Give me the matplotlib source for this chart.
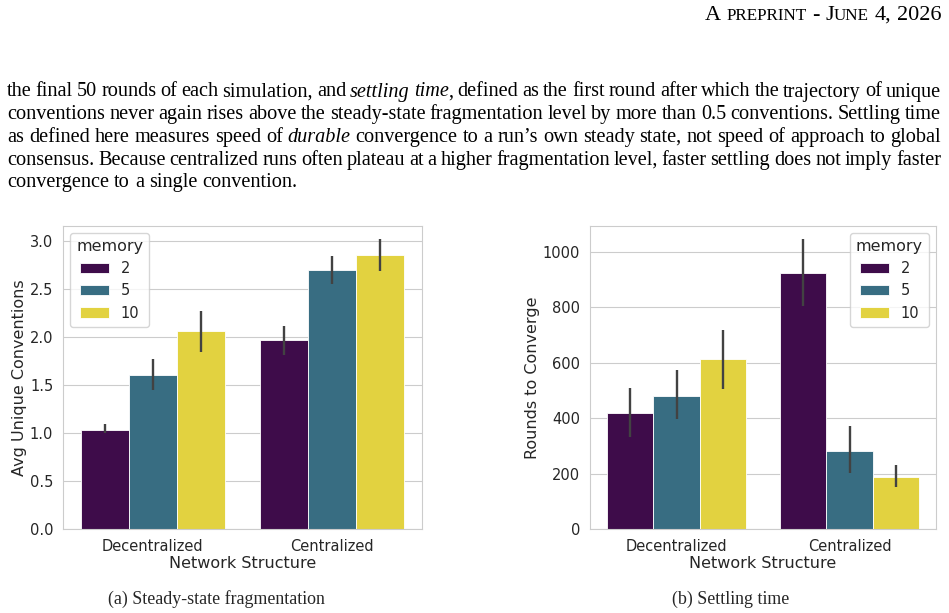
import matplotlib
matplotlib.use("Agg")
import matplotlib.pyplot as plt
import seaborn as sns
import numpy as np

W, H = 949, 613

structures = ["Decentralized", "Centralized"]
memory_levels = ["2", "5", "10"]
memory_values = [2, 5, 10]

# (a) steady-state fragmentation, one list per memory level: [Decentralized, Centralized]
frag_mean = [[1.03, 1.97], [1.61, 2.70], [2.06, 2.85]]
frag_lo = [[1.00, 1.81], [1.45, 2.55], [1.85, 2.69]]
frag_hi = [[1.10, 2.12], [1.77, 2.84], [2.27, 3.02]]

# (b) settling time
settle_mean = [[418, 925], [480, 282], [614, 189]]
settle_lo = [[331, 805], [399, 204], [507, 151]]
settle_hi = [[508, 1045], [575, 373], [718, 232]]

header_words = [[("A", "big")], [("PREPRINT", "small")], [("-", "big")],
                [("J", "big"), ("UNE", "small")], [("4,", "big")], [("2026", "big")]]

para_lines = [
    [("the final 50 rounds of each simulation, and ", "normal"), ("settling time", "italic"),
     (", defined as the first round after which the trajectory of unique", "normal")],
    [("conventions never again rises above the steady-state fragmentation level by more than 0.5 conventions. Settling time", "normal")],
    [("as defined here measures speed of ", "normal"), ("durable", "italic"),
     (" convergence to a run\u2019s own steady state, not speed of approach to global", "normal")],
    [("consensus. Because centralized runs often plateau at a higher fragmentation level, faster settling does not imply faster", "normal")],
    [("convergence to a single convention.", "normal")],
]

captions = ["(a) Steady-state fragmentation", "(b) Settling time"]

sns.set_style("whitegrid")
plt.rcParams["font.family"] = ["DejaVu Sans"]

# numeric hue mapped linearly onto viridis, then desaturated like seaborn bars
base = plt.get_cmap("viridis")
lo_m, hi_m = min(memory_values), max(memory_values)
colors = [sns.desaturate(base((v - lo_m) / (hi_m - lo_m)), 0.75) for v in memory_values]

fig = plt.figure(figsize=(W / 100, H / 100), dpi=100)
renderer = fig.canvas.get_renderer()


def px(x, y):
    return x / W, 1 - y / H


def draw_bars(ax, means, lo, hi, ylim, yticks, fmt, ylabel, loc):
    n = len(memory_levels)
    width = 0.8 / n
    x = np.arange(len(structures))
    for j, m in enumerate(memory_levels):
        pos = x + (j - (n - 1) / 2) * width
        ax.bar(pos, means[j], width=width, color=colors[j], edgecolor="white",
               linewidth=0.6, label=m, zorder=2)
        ax.vlines(pos, lo[j], hi[j], color="#424242", linewidth=1.7, zorder=3)
    ax.set_xlim(-0.5, len(structures) - 0.5)
    ax.set_ylim(*ylim)
    ax.set_xticks(x)
    ax.set_xticklabels(structures, fontsize=10.5)
    ax.set_yticks(yticks)
    ax.set_yticklabels([fmt.format(t) for t in yticks], fontsize=10.5)
    ax.xaxis.grid(False)
    ax.set_axisbelow(True)
    ax.set_xlabel("Network Structure", fontsize=11.5, labelpad=1.5)
    ax.set_ylabel(ylabel, fontsize=11.5, labelpad=2)
    for s in ax.spines.values():
        s.set_color("#cccccc")
    ax.legend(title="memory", loc=loc, fontsize=10.5, title_fontsize=11.5)


ax1 = fig.add_axes([63 / W, 1 - 529.3 / H, 359 / W, 303.6 / H])
draw_bars(ax1, frag_mean, frag_lo, frag_hi, (0, 3.16),
          [0, 0.5, 1.0, 1.5, 2.0, 2.5, 3.0], "{:.1f}", "Avg Unique Conventions", "upper left")

ax2 = fig.add_axes([590 / W, 1 - 529.3 / H, 346 / W, 303.6 / H])
draw_bars(ax2, settle_mean, settle_lo, settle_hi, (0, 1094),
          [0, 200, 400, 600, 800, 1000], "{:.0f}", "Rounds to Converge", "upper right")

serif = "Liberation Serif"


def width_of(s, size, style="normal"):
    t = fig.text(0, 0, s, fontsize=size, family=serif, style=style)
    w = t.get_window_extent(renderer).width
    t.remove()
    return w


# header in small caps, right aligned
hsize = {"big": 16, "small": 12.3}
hspace = width_of("a a", 16) - width_of("aa", 16)
word_w = [sum(width_of(t, hsize[k]) for t, k in wd) for wd in header_words]
x = 941.5 - sum(word_w) - hspace * (len(header_words) - 1)
for wd, ww in zip(header_words, word_w):
    xx = x
    for t, k in wd:
        fig.text(*px(xx, 20), t, fontsize=hsize[k], family=serif, va="baseline", color="black")
        xx += width_of(t, hsize[k])
    x += ww + hspace


def split_words(segments):
    words = []
    new_word = True
    for text, style in segments:
        parts = text.split(" ")
        for i, p in enumerate(parts):
            if i > 0:
                new_word = True
            if p == "":
                continue
            if new_word or not words:
                words.append([(p, style)])
            else:
                words[-1].append((p, style))
            new_word = False
    return words


x0, x1 = 7, 941
line_words = [split_words(line) for line in para_lines]

# largest size (up to 15pt) at which every justified line keeps a reasonable space
psize = 15.0
while psize > 10:
    sp = width_of("a a", psize) - width_of("aa", psize)
    ok = True
    for words in line_words[:-1]:
        nat = sum(width_of(t, psize, st) for wd in words for t, st in wd)
        if (x1 - x0 - nat) / (len(words) - 1) < 0.75 * sp:
            ok = False
            break
    if ok:
        break
    psize -= 0.1

pspace = width_of("a a", psize) - width_of("aa", psize)
for i, words in enumerate(line_words):
    y = 96.5 + i * 22.7
    ws = [sum(width_of(t, psize, st) for t, st in wd) for wd in words]
    last = i == len(line_words) - 1
    gap = pspace if last else (x1 - x0 - sum(ws)) / (len(words) - 1)
    x = x0
    for wd, ww in zip(words, ws):
        xx = x
        for t, st in wd:
            fig.text(*px(xx, y), t, fontsize=psize, family=serif, style=st,
                     va="baseline", color="black")
            xx += width_of(t, psize, st)
        x += ww + gap

fig.text(*px(216, 603.5), captions[0], fontsize=12.9, family=serif, ha="center", va="baseline")
fig.text(*px(731, 603.5), captions[1], fontsize=12.9, family=serif, ha="center", va="baseline")

fig.savefig("out.png", dpi=100)
